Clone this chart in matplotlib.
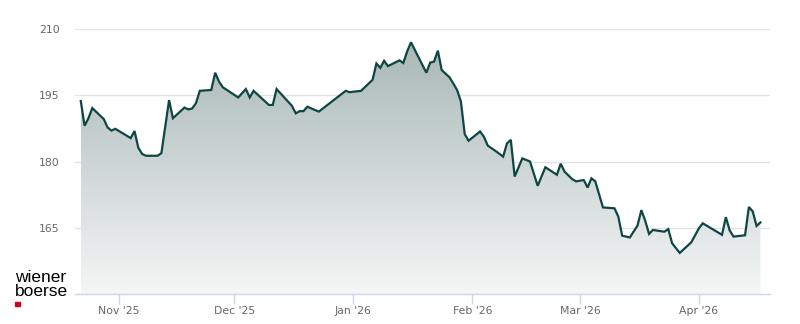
import numpy as np
import pandas as pd
import matplotlib
matplotlib.use("Agg")
import matplotlib.pyplot as plt
import matplotlib.dates as mdates
from matplotlib.colors import LinearSegmentedColormap

# price vertices
dates = [
    "2025-10-22", "2025-10-23", "2025-10-24", "2025-10-25", "2025-10-28", "2025-10-29",
    "2025-10-30", "2025-10-31", "2025-11-04", "2025-11-05", "2025-11-06", "2025-11-07",
    "2025-11-08", "2025-11-11", "2025-11-12", "2025-11-14", "2025-11-15", "2025-11-18",
    "2025-11-19", "2025-11-20", "2025-11-21", "2025-11-22", "2025-11-25", "2025-11-26",
    "2025-11-27", "2025-11-28", "2025-12-02", "2025-12-04", "2025-12-05", "2025-12-06",
    "2025-12-10", "2025-12-11", "2025-12-12", "2025-12-16", "2025-12-17", "2025-12-18",
    "2025-12-19", "2025-12-20", "2025-12-23", "2025-12-30", "2025-12-31", "2026-01-03",
    "2026-01-06", "2026-01-07", "2026-01-08", "2026-01-09", "2026-01-10", "2026-01-13",
    "2026-01-14", "2026-01-15", "2026-01-16", "2026-01-20", "2026-01-21", "2026-01-22",
    "2026-01-23", "2026-01-24", "2026-01-26", "2026-01-27", "2026-01-28", "2026-01-29",
    "2026-01-30", "2026-01-31", "2026-02-03", "2026-02-04", "2026-02-05", "2026-02-07",
    "2026-02-09", "2026-02-10", "2026-02-11", "2026-02-12", "2026-02-14", "2026-02-16",
    "2026-02-18", "2026-02-20", "2026-02-23", "2026-02-24", "2026-02-25", "2026-02-27",
    "2026-02-28", "2026-03-02", "2026-03-03", "2026-03-04", "2026-03-05", "2026-03-07",
    "2026-03-10", "2026-03-11", "2026-03-12", "2026-03-14", "2026-03-16", "2026-03-17",
    "2026-03-18", "2026-03-19", "2026-03-20", "2026-03-23", "2026-03-24", "2026-03-25",
    "2026-03-27", "2026-03-30", "2026-04-01", "2026-04-02", "2026-04-07", "2026-04-08",
    "2026-04-09", "2026-04-10", "2026-04-13", "2026-04-14", "2026-04-15", "2026-04-16",
    "2026-04-17",
]
prices = [
    193.7, 188.1, 189.8, 192.1, 189.6, 187.7,
    187.0, 187.4, 185.3, 186.9, 183.1, 181.7,
    181.3, 181.3, 181.9, 193.9, 189.8, 192.2,
    191.8, 192.0, 193.2, 196.0, 196.2, 200.1,
    198.1, 196.8, 194.5, 196.4, 194.5, 196.0,
    192.8, 192.8, 196.4, 192.6, 190.9, 191.4,
    191.4, 192.4, 191.3, 196.0, 195.7, 196.0,
    198.5, 202.2, 201.2, 202.8, 201.6, 202.9,
    202.3, 204.9, 207.0, 200.1, 202.4, 202.6,
    205.1, 200.7, 199.1, 197.7, 196.2, 193.6,
    186.2, 184.7, 186.8, 185.6, 183.6, 182.4,
    181.1, 184.1, 184.9, 176.6, 180.7, 180.0,
    174.5, 178.7, 177.0, 179.5, 177.7, 176.0,
    175.5, 175.8, 174.1, 176.2, 175.5, 169.6,
    169.4, 167.5, 163.2, 162.8, 165.5, 169.0,
    166.6, 163.6, 164.5, 164.1, 164.7, 161.5,
    159.3, 161.7, 164.9, 166.0, 163.4, 167.4,
    164.4, 163.0, 163.3, 169.7, 168.7, 165.4,
    166.2,
]
y_ticks = [165, 180, 195, 210]
month_ticks = ["2025-11-01", "2025-12-01", "2026-01-01", "2026-02-01", "2026-03-01", "2026-04-01"]
month_labels = ["Nov '25", "Dec '25", "Jan '26", "Feb '26", "Mar '26", "Apr '26"]

x = mdates.date2num(pd.to_datetime(dates))
y = np.array(prices)

fig = plt.figure(figsize=(8, 3.24), dpi=100)
ax = fig.add_axes([75 / 800, 30 / 324, 695 / 800, 265 / 324])

ymin, ymax = 150, 210
xmin = mdates.date2num(pd.Timestamp("2025-10-20 12:00"))
xmax = mdates.date2num(pd.Timestamp("2026-04-19 12:00"))

# gradient area under the line
fill = ax.fill_between(x, y, ymin, facecolor="none", edgecolor="none")
cmap = LinearSegmentedColormap.from_list("g", ["#f5f6f6", "#a9b8b7"])
grad = np.linspace(0, 1, 256).reshape(-1, 1)
img = ax.imshow(grad, aspect="auto", cmap=cmap, origin="lower",
                extent=[x[0], x[-1], ymin, y.max()], zorder=1)
img.set_clip_path(fill.get_paths()[0], transform=ax.transData)

ax.plot(x, y, color="#0e4643", lw=1.6, zorder=3, solid_joinstyle="miter")

ax.set_xlim(xmin, xmax)
ax.set_ylim(ymin, ymax)

ax.set_yticks(y_ticks)
ax.set_yticklabels([str(v) for v in y_ticks])
ax.grid(axis="y", color="#e3e3e3", lw=1)
ax.set_axisbelow(True)

ax.set_xticks(mdates.date2num(pd.to_datetime(month_ticks)))
ax.set_xticklabels(month_labels)

for s in ["top", "right", "left"]:
    ax.spines[s].set_visible(False)
ax.spines["bottom"].set_color("#ccd6eb")
ax.spines["bottom"].set_linewidth(1)

ax.tick_params(axis="y", length=0, pad=11, labelsize=7.8, labelcolor="#666666")
ax.tick_params(axis="x", length=7.5, width=1, color="#ccd6eb", pad=1,
               labelsize=7.8, labelcolor="#666666")

# logo
fig.text(15 / 800, 1 - 282 / 324, "wiener", fontsize=12.5, family="Liberation Sans",
         color="#000000", va="baseline")
fig.text(15 / 800, 1 - 296.5 / 324, "boerse", fontsize=12.5, family="Liberation Sans",
         color="#000000", va="baseline")
fig.patches.append(plt.Rectangle((15 / 800, 1 - 305.5 / 324), 4.5 / 800, 4 / 324,
                                 transform=fig.transFigure, color="#d0021b"))

fig.savefig("out.png", dpi=100)
